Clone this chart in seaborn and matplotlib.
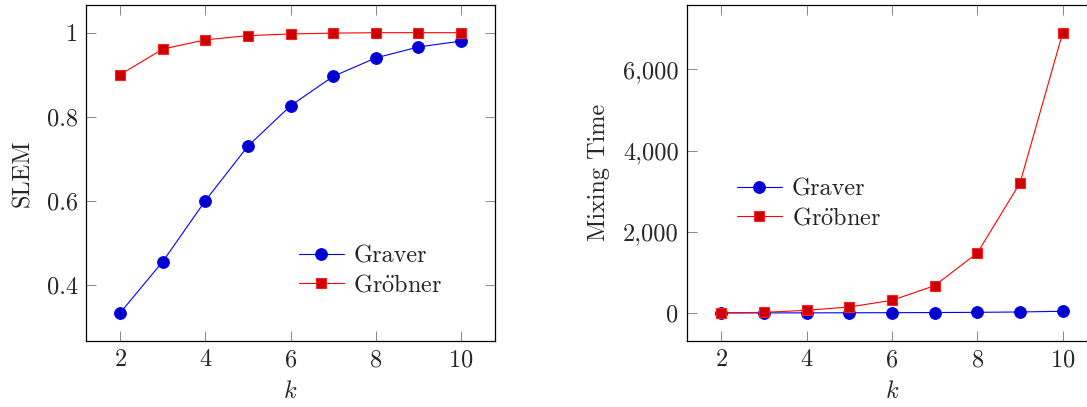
import numpy as np
import pandas as pd
import matplotlib
matplotlib.use('Agg')
import matplotlib.pyplot as plt
from matplotlib.ticker import FuncFormatter
import seaborn as sns

# 데이터
k = [2, 3, 4, 5, 6, 7, 8, 9, 10]
slem_graver = [0.333, 0.455, 0.600, 0.730, 0.826, 0.896, 0.940, 0.966, 0.980]
slem_grobner = [0.900, 0.961, 0.983, 0.993, 0.997, 0.999, 1.000, 1.000, 1.000]
mix_graver = [1, 2, 3, 5, 7, 11, 16, 25, 42]
mix_grobner = [3, 15, 66, 148, 312, 673, 1478, 3203, 6906]
labels = ['Graver', r'Gr$\ddot{\mathrm{o}}$bner']

sns.set_style('ticks')
plt.rcParams['font.family'] = ['cmr10', 'DejaVu Serif']
plt.rcParams['mathtext.fontset'] = 'cm'
plt.rcParams['axes.unicode_minus'] = False
plt.rcParams['axes.formatter.use_mathtext'] = True

fig = plt.figure(figsize=(10.87, 4.07), dpi=100)
ax1 = fig.add_axes([0.0791, 0.1622, 0.3763, 0.8263])
ax2 = fig.add_axes([0.632, 0.1622, 0.3771, 0.8263])

fs = 17.5
styles = [dict(color='#0000ff', marker='o', markersize=8.4, markerfacecolor='#0000cc',
               markeredgecolor='#0000ff'),
          dict(color='#ff0000', marker='s', markersize=7.4, markerfacecolor='#cc0000',
               markeredgecolor='#ff2020')]

for ax, ys in [(ax1, [slem_graver, slem_grobner]), (ax2, [mix_graver, mix_grobner])]:
    for y, lab, st in zip(ys, labels, styles):
        sns.lineplot(x=k, y=y, ax=ax, label=lab, linewidth=0.8, markeredgewidth=0.8, **st)
    ax.set_xlim(1.2, 10.8)
    ax.set_xticks([2, 4, 6, 8, 10])
    ax.set_xlabel('$k$', fontsize=fs, labelpad=7)
    for s in ax.spines.values():
        s.set_visible(True)
        s.set_linewidth(0.9)
        s.set_color('black')
    ax.tick_params(direction='in', length=7.5, width=0.7, color='#888888',
                   labelsize=fs, top=True, right=True, pad=6)

ax1.set_ylim(0.2663, 1.0667)
ax1.set_yticks([0.4, 0.6, 0.8, 1.0])
ax1.yaxis.set_major_formatter(FuncFormatter(lambda v, p: f'{v:g}'))
ax1.set_ylabel('SLEM', fontsize=fs, labelpad=9)

ax2.set_ylim(-690, 7596)
ax2.set_yticks([0, 2000, 4000, 6000])
ax2.yaxis.set_major_formatter(FuncFormatter(lambda v, p: f'{v:,.0f}'))
ax2.set_ylabel('Mixing Time', fontsize=fs, labelpad=9)

leg_kw = dict(loc='upper left', frameon=False, fontsize=fs, borderpad=0, borderaxespad=0,
              handlelength=1.85, labelspacing=0.28, handletextpad=0.4)
ax1.legend(bbox_to_anchor=(0.52, 0.283), **leg_kw)
ax2.legend(bbox_to_anchor=(0.122, 0.483), **leg_kw)

fig.savefig('out.png', dpi=100)
